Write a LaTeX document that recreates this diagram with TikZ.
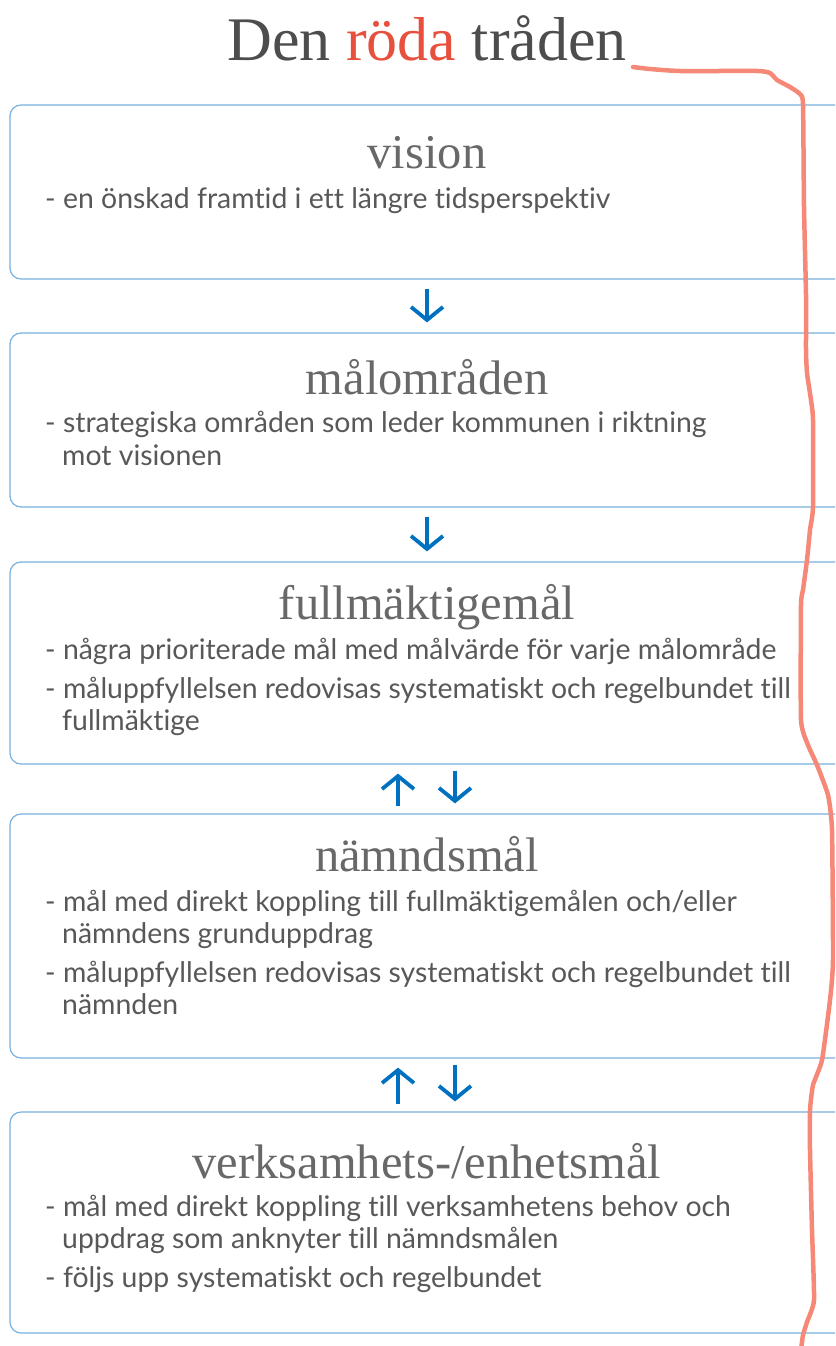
\documentclass[tikz,border=0pt]{standalone}
\usepackage{fontspec}
\setmainfont{Liberation Serif}
\newfontfamily\bodyfont[Ligatures=CommonOff]{Lato}
\usetikzlibrary{arrows.meta,positioning}
\definecolor{framecol}{RGB}{120,176,222}
\definecolor{arrowcol}{RGB}{0,112,192}
\definecolor{threadcol}{RGB}{246,136,120}
\definecolor{headcol}{RGB}{77,77,77}
\definecolor{rodcol}{RGB}{232,80,62}
\definecolor{textcol}{RGB}{88,88,88}
\newcommand{\bodyline}[4]{%
  \node[bodytext] (#1) at (#2,#3) {#4};}

\begin{document}
\begin{tikzpicture}[
  x=1pt, y=-1pt,
  levelframe/.style={draw=framecol, line width=1.2pt, rounded corners=11pt,
    minimum width=838pt, inner sep=0pt},
  leveltitle/.style={text=headcol!85, anchor=base, inner sep=0pt,
    font=\fontsize{48.5}{50}\selectfont},
  bodytext/.style={text=textcol, anchor=base west, inner sep=0pt,
    font=\bodyfont\fontsize{28.4}{32}\selectfont},
  updown/.style={draw=arrowcol, line width=3.8pt,
    -{Straight Barb[length=13pt, width=32pt, line width=3.8pt]}},
  thread/.style={draw=threadcol, line width=4.5pt, line cap=round, line join=round},
]
\clip (0,0) rectangle (835,1346);

% ---- Heading ----
\node[anchor=base, inner sep=0pt, text=headcol, font=\fontsize{62}{66}\selectfont]
  (heading) at (427,60) {Den \textcolor{rodcol}{röda} tråden};

% ---- Level boxes ----
\node[levelframe, minimum height=174pt] (vision)   at (429,192)  {};
\node[levelframe, minimum height=174pt] (malomr)   at (429,420)  {};
\node[levelframe, minimum height=202pt] (fullmakt) at (429,663)  {};
\node[levelframe, minimum height=244pt] (namnd)    at (429,936)  {};
\node[levelframe, minimum height=221pt] (verks)    at (429,1222.5) {};

% ---- Titles ----
\node[leveltitle] (visionT)   at (427,168)  {vision};
\node[leveltitle] (malomrT)   at (427,394)  {målområden};
\node[leveltitle] (fullmaktT) at (427,619)  {fullmäktigemål};
\node[leveltitle] (namndT)    at (427,871)  {nämndsmål};
\node[leveltitle] (verksT)    at (427,1178) {verksamhets-/enhetsmål};

% ---- Bullet text ----
\bodyline{v1}{45}{208}{- en önskad framtid i ett längre tidsperspektiv}
\bodyline{m1}{45}{432}{- strategiska områden som leder kommunen i riktning}
\bodyline{m2}{62}{465}{mot visionen}
\bodyline{f1}{45}{659}{- några prioriterade mål med målvärde för varje målområde}
\bodyline{f2}{45}{698}{- måluppfyllelsen redovisas systematiskt och regelbundet till}
\bodyline{f3}{62}{730}{fullmäktige}
\bodyline{n1}{45}{911}{- mål med direkt koppling till fullmäktigemålen och/eller}
\bodyline{n2}{62}{943}{nämndens grunduppdrag}
\bodyline{n3}{45}{982}{- måluppfyllelsen redovisas systematiskt och regelbundet till}
\bodyline{n4}{62}{1014}{nämnden}
\bodyline{e1}{45}{1216}{- mål med direkt koppling till verksamhetens behov och}
\bodyline{e2}{62}{1248}{uppdrag som anknyter till nämndsmålen}
\bodyline{e3}{45}{1287}{- följs upp systematiskt och regelbundet}

% ---- Arrows between levels ----
\draw[updown, shorten <=9pt, shorten >=10pt] ([xshift=-2pt]vision.south) -- ([xshift=-2pt]malomr.north);
\draw[updown, shorten <=9pt, shorten >=10pt] ([xshift=-2pt]malomr.south) -- ([xshift=-2pt]fullmakt.north);
\foreach \upper/\lower in {fullmakt/namnd, namnd/verks} {
  \draw[updown, shorten <=7pt, shorten >=9pt] ([xshift=-31pt]\lower.north) -- ([xshift=-31pt]\upper.south);
  \draw[updown, shorten <=6pt, shorten >=10pt] ([xshift=26pt]\upper.south) -- ([xshift=26pt]\lower.north);
}

% ---- The red thread ----
\coordinate (threadstart) at (633,67);
\draw[thread] plot[smooth, tension=0.3] coordinates {
  (threadstart) (650,69) (680,71) (757,71) (770,73) (777,80) (790,87) (800,94)
  (803,104) (804,207) (806,295) (806,350) (807,373) (811,400) (813,420) (813,507)
  (810,530) (807,560) (803,590) (801,605) (801,720) (808,745) (817,765)
  (828,795) (832,830) (833,960) (830,1000) (822,1060) (813,1085) (810,1110)
  (810,1150) (812,1230) (814,1300) (807,1322) (803,1335) (801,1350)};
\end{tikzpicture}
\end{document}
